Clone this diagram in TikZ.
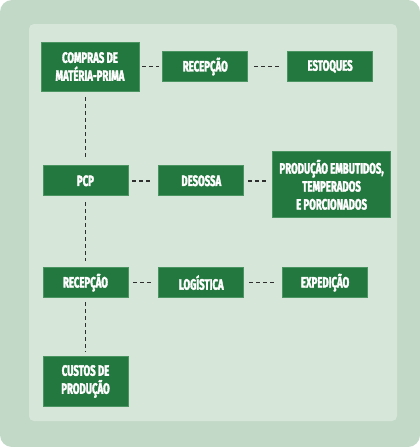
\documentclass[tikz,border=0pt]{standalone}
\usepackage{fontspec}
\setmainfont{Fira Sans}[FakeStretch=0.64, BoldFont={Fira Sans Bold}, BoldFeatures={FakeStretch=0.64, FakeBold=2.2}]
\usepackage{xcolor}
\usetikzlibrary{positioning,calc}

\definecolor{outerbg}{HTML}{C3D9C7}
\definecolor{innerbg}{HTML}{D6E7DA}
\definecolor{boxgreen}{HTML}{23783F}
\definecolor{boxline}{HTML}{4A9462}
\definecolor{dashgray}{HTML}{2E2E2E}

\begin{document}
\begin{tikzpicture}[
      x=1pt, y=-1pt,
      font=\fontsize{15}{18}\selectfont\bfseries,
      box/.style={draw=boxline, line width=0.8pt, fill=boxgreen, text=white, align=center, inner sep=0pt, minimum width=85pt, minimum height=30pt},
      link/.style={draw=dashgray, line width=1.6pt, dash pattern=on 4pt off 3pt}
    ]
    % background panels
    \useasboundingbox (0,0) rectangle (420,447);
    \fill[outerbg, rounded corners=12pt] (0,0) rectangle (420,447);
    \fill[innerbg, rounded corners=5pt] (29,24) rectangle (397,421);
    % first row
    \node[box, minimum width=98pt, minimum height=49pt] (compras) at (90,66.5) {COMPRAS DE\\MATÉRIA-PRIMA};
    \node[box, right=23pt of compras] (receb) {RECEPÇÃO};
    \node[box, right=39pt of receb] (estoques) {ESTOQUES};
    % second row
    \node[box, below=74pt of compras, xshift=-4.5pt] (pcp) {PCP};
    \node[box, right=30pt of pcp] (desossa) {DESOSSA};
    \node[box, right=28pt of desossa, yshift=-4pt, minimum width=118pt, minimum height=66pt] (producao) {PRODUÇÃO EMBUTIDOS,\\TEMPERADOS\\E PORCIONADOS};
    % third row
    \node[box, below=71pt of pcp] (recep) {RECEPÇÃO};
    \node[box, right=30pt of recep] (logistica) {LOGÍSTICA};
    \node[box, right=38pt of logistica] (expedicao) {EXPEDIÇÃO};
    % last
    \node[box, below=58pt of recep, minimum height=50pt] (custos) {CUSTOS DE\\PRODUÇÃO};
    % links
    \draw[link, shorten <=3pt, shorten >=3pt] (compras.east |- receb) -- (receb.west);
    \draw[link, shorten <=6pt, shorten >=6pt] (receb) -- (estoques);
    \draw[link, shorten <=6pt, shorten >=6pt] (pcp.north |- compras.south) -- (pcp.north);
    \draw[link, shorten <=4pt, shorten >=6pt] (pcp) -- (desossa);
    \draw[link, shorten <=4pt, shorten >=6pt] (desossa) -- (desossa.east -| producao.west);
    \draw[link, shorten <=6pt, shorten >=6pt] (pcp) -- (recep);
    \draw[link, shorten <=5pt, shorten >=6pt] (recep) -- (logistica);
    \draw[link, shorten <=5pt, shorten >=6pt] (logistica) -- (expedicao);
    \draw[link, shorten <=4pt, shorten >=4pt] (recep) -- (custos);
  \end{tikzpicture}
\end{document}
